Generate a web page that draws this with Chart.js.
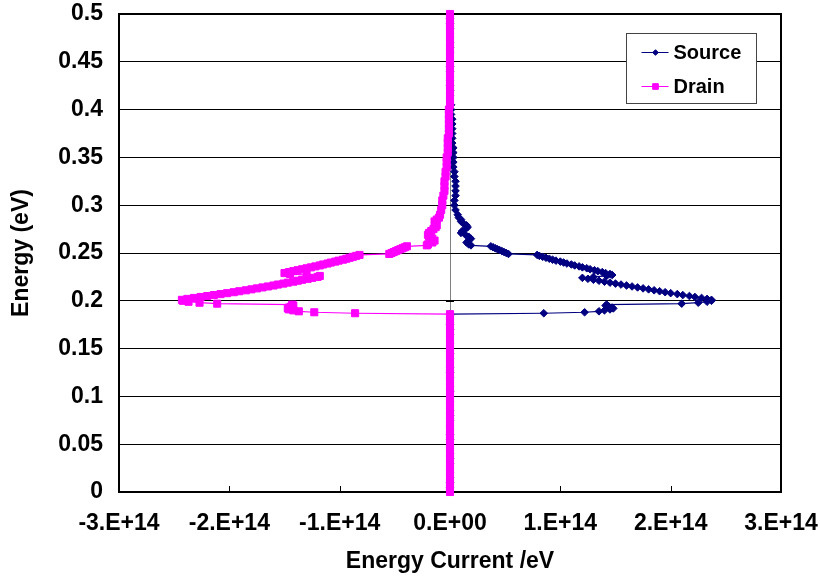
<!DOCTYPE html>
<html>
<head>
<meta charset="utf-8">
<title>Energy current</title>
<script src="https://cdn.jsdelivr.net/npm/chart.js@4.4.1/dist/chart.umd.min.js"></script>
<style>
  html, body { margin: 0; padding: 0; background: #fff; }
</style>
</head>
<body>
<canvas id="energy-current" width="820" height="576"></canvas>
<script>
const UNIT = 1e14; // currents below are in units of 1E+14

// Energy grid (eV), shared by both contacts
const ENERGY = [
  0, 0.005, 0.01, 0.015, 0.02, 0.025, 0.03, 0.035, 0.04, 0.045,
  0.05, 0.055, 0.06, 0.065, 0.07, 0.075, 0.08, 0.085, 0.09, 0.095,
  0.1, 0.105, 0.11, 0.115, 0.12, 0.125, 0.13, 0.135, 0.14, 0.145,
  0.15, 0.155, 0.16, 0.165, 0.17, 0.175, 0.18, 0.185,
  0.186, 0.187, 0.188, 0.189, 0.19, 0.191, 0.192, 0.193, 0.194, 0.195, 0.196, 0.197, 0.198, 0.199,
  0.2, 0.201, 0.202, 0.203, 0.204, 0.205, 0.206, 0.207, 0.208, 0.209,
  0.21, 0.211, 0.212, 0.213, 0.214, 0.215, 0.216, 0.217, 0.218, 0.219,
  0.22, 0.221, 0.222, 0.223, 0.224, 0.225, 0.226, 0.227, 0.228, 0.229,
  0.23, 0.231, 0.232, 0.233, 0.234, 0.235, 0.236, 0.237, 0.238, 0.239,
  0.24, 0.241, 0.242, 0.243, 0.244, 0.245, 0.246, 0.247, 0.248, 0.249,
  0.25, 0.251, 0.252, 0.253, 0.254, 0.255, 0.256, 0.257, 0.258,
  0.259, 0.261, 0.263, 0.265, 0.267, 0.269, 0.271, 0.273, 0.275, 0.277, 0.279, 0.281, 0.283, 0.285, 0.287,
  0.29, 0.295, 0.3, 0.305, 0.31, 0.315, 0.32, 0.325, 0.33, 0.335,
  0.34, 0.345, 0.35, 0.355, 0.36, 0.365, 0.37, 0.375, 0.38, 0.385,
  0.39, 0.395, 0.4, 0.405, 0.41, 0.415, 0.42, 0.425, 0.43, 0.435,
  0.44, 0.445, 0.45, 0.455, 0.46, 0.465, 0.47, 0.475, 0.48, 0.485,
  0.49, 0.495, 0.5
];

// Source contact current (x 1E+14)
const SOURCE_CURRENT = [
  0, 0, 0, 0, 0, 0, 0, 0, 0, 0,
  0, 0, 0, 0, 0, 0, 0, 0, 0, 0,
  0, 0, 0, 0, 0, 0, 0, 0, 0, 0,
  0, 0, 0, 0, 0, 0, 0, 0,
  0, 0.85, 1.22, 1.35, 1.40, 1.45, 1.48, 1.47, 1.44, 1.41, 1.42, 2.10, 2.25, 2.33,
  2.37, 2.37, 2.33, 2.28, 2.22, 2.17, 2.11, 2.06, 2.00, 1.95,
  1.90, 1.85, 1.80, 1.75, 1.70, 1.65, 1.60, 1.55, 1.50, 1.45,
  1.40, 1.35, 1.30, 1.25, 1.20, 1.30, 1.42, 1.47, 1.45, 1.41,
  1.38, 1.34, 1.31, 1.27, 1.24, 1.20, 1.17, 1.13, 1.10, 1.06,
  1.03, 1.00, 0.96, 0.93, 0.90, 0.87, 0.84, 0.81, 0.79, 0.53,
  0.51, 0.49, 0.47, 0.45, 0.43, 0.41, 0.39, 0.37, 0.19,
  0.17, 0.15, 0.17, 0.19, 0.17, 0.14, 0.10, 0.11, 0.14, 0.16, 0.15, 0.12, 0.10, 0.10, 0.08,
  0.07, 0.05, 0.04, 0.04, 0.05, 0.05, 0.05, 0.05, 0.04, 0.04,
  0.03, 0.03, 0.03, 0.03, 0.03, 0.02, 0.02, 0.02, 0.02, 0.02,
  0.02, 0.01, 0.01, 0.01, 0, 0, 0, 0, 0, 0,
  0, 0, 0, 0, 0, 0, 0, 0, 0, 0,
  0, 0, 0
];

// Drain contact current (x 1E+14)
const DRAIN_CURRENT = [
  0, 0, 0, 0, 0, 0, 0, 0, 0, 0,
  0, 0, 0, 0, 0, 0, 0, 0, 0, 0,
  0, 0, 0, 0, 0, 0, 0, 0, 0, 0,
  0, 0, 0, 0, 0, 0, 0, 0,
  0, -0.86, -1.23, -1.37, -1.42, -1.46, -1.47, -1.46, -1.44, -1.42, -1.43, -2.11, -2.27, -2.37,
  -2.42, -2.43, -2.38, -2.32, -2.26, -2.20, -2.14, -2.08, -2.02, -1.96,
  -1.91, -1.85, -1.80, -1.75, -1.70, -1.65, -1.60, -1.56, -1.51, -1.47,
  -1.42, -1.38, -1.34, -1.29, -1.25, -1.20, -1.18, -1.30, -1.45, -1.50,
  -1.46, -1.42, -1.38, -1.34, -1.30, -1.26, -1.22, -1.18, -1.15, -1.11,
  -1.08, -1.04, -1.01, -0.97, -0.94, -0.91, -0.88, -0.85, -0.82, -0.55,
  -0.53, -0.51, -0.49, -0.47, -0.45, -0.43, -0.41, -0.39, -0.21,
  -0.20, -0.16, -0.14, -0.16, -0.19, -0.20, -0.19, -0.17, -0.15, -0.13, -0.12, -0.13, -0.14, -0.12, -0.10,
  -0.09, -0.08, -0.07, -0.07, -0.06, -0.05, -0.05, -0.05, -0.04, -0.04,
  -0.03, -0.03, -0.03, -0.02, -0.02, -0.02, -0.02, -0.01, -0.01, -0.01,
  -0.01, -0.01, -0.01, 0, 0, 0, 0, 0, 0, 0,
  0, 0, 0, 0, 0, 0, 0, 0, 0, 0,
  0, 0, 0
];

const X_TICKS = [-3, -2, -1, 0, 1, 2, 3];
const Y_TICKS = [0, 0.05, 0.1, 0.15, 0.2, 0.25, 0.3, 0.35, 0.4, 0.45, 0.5];

const NAVY = '#000080';
const MAGENTA = '#FF00FF';
const FAMILY = "'Liberation Sans', Arial, sans-serif";
const AXIS_FONT = { family: FAMILY, size: 23, weight: 'bold' };
const LEGEND_FONT = 'bold 20px ' + FAMILY;
const CLEAR = 'rgba(0,0,0,0)';

const SERIES = [
  { label: 'Source', values: SOURCE_CURRENT, color: NAVY, pointStyle: 'rectRot', radius: 3.8 },
  { label: 'Drain', values: DRAIN_CURRENT, color: MAGENTA, pointStyle: 'rect', radius: 5 }
];

function toPoints(values) {
  return values.map((c, i) => ({ x: c * UNIT, y: ENERGY[i] }));
}

function formatCurrent(v) {
  const n = Math.round(v / UNIT);
  return n === 0 ? '0.E+00' : n + '.E+14';
}

// frame, axis tick marks and the boxed legend
const chartDecor = {
  id: 'chartDecor',
  beforeDatasetsDraw(chart) {
    const { ctx, chartArea: a, scales: { x, y } } = chart;
    ctx.save();
    ctx.strokeStyle = '#000';
    ctx.lineWidth = 1;
    ctx.beginPath();
    X_TICKS.forEach(v => {
      const px = Math.round(x.getPixelForValue(v * UNIT)) + 0.5;
      ctx.moveTo(px, a.bottom);
      ctx.lineTo(px, a.bottom - 6);
    });
    const x0 = Math.round(x.getPixelForValue(0));
    Y_TICKS.forEach(v => {
      const py = Math.round(y.getPixelForValue(v)) + 0.5;
      ctx.moveTo(x0 - 4, py);
      ctx.lineTo(x0 + 4, py);
    });
    ctx.stroke();
    ctx.lineWidth = 2;
    ctx.strokeRect(a.left, a.top, a.width, a.height);
    ctx.restore();
  },
  afterDatasetsDraw(chart) {
    const { ctx, chartArea: a } = chart;
    const lx = Math.round(a.right - 155) + 0.5;
    const ly = Math.round(a.top + 19) + 0.5;
    ctx.save();
    ctx.fillStyle = '#fff';
    ctx.fillRect(lx, ly, 130, 70);
    ctx.strokeStyle = '#444';
    ctx.lineWidth = 1;
    ctx.strokeRect(lx, ly, 130, 70);
    SERIES.forEach((s, i) => {
      const cy = ly + 19 + i * 34;
      ctx.strokeStyle = s.color;
      ctx.lineWidth = 1;
      ctx.beginPath();
      ctx.moveTo(lx + 15, cy);
      ctx.lineTo(lx + 42, cy);
      ctx.stroke();
      ctx.fillStyle = s.color;
      Chart.helpers.drawPoint(ctx, { pointStyle: s.pointStyle, radius: s.radius - 1, rotation: 0, borderWidth: 1 }, lx + 29, cy);
      ctx.fillStyle = '#000';
      ctx.font = LEGEND_FONT;
      ctx.textAlign = 'left';
      ctx.textBaseline = 'middle';
      ctx.fillText(s.label, lx + 47, cy + 1);
    });
    ctx.restore();
  }
};

const config = {
  type: 'scatter',
  data: {
    datasets: SERIES.map((s, i) => ({
      label: s.label,
      data: toPoints(s.values),
      showLine: true,
      borderColor: s.color,
      backgroundColor: s.color,
      borderWidth: 1.2,
      pointStyle: s.pointStyle,
      pointRadius: s.radius,
      pointBorderWidth: 1,
      pointBorderColor: s.color,
      pointBackgroundColor: s.color,
      clip: false,
      order: 2 - i // drain drawn over source
    }))
  },
  options: {
    responsive: false,
    animation: false,
    events: [],
    layout: { padding: { top: 14, right: 39, bottom: 0, left: 0 } },
    plugins: {
      legend: { display: false },
      tooltip: { enabled: false }
    },
    scales: {
      x: {
        type: 'linear',
        min: -3 * UNIT,
        max: 3 * UNIT,
        afterBuildTicks: s => { s.ticks = X_TICKS.map(v => ({ value: v * UNIT })); },
        afterFit: s => { s.height = 84; },
        border: { display: false },
        grid: {
          drawTicks: true,
          tickLength: 18,
          tickColor: CLEAR,
          lineWidth: 1,
          color: ctx => (ctx.tick && ctx.tick.value === 0 ? '#808080' : CLEAR)
        },
        ticks: {
          font: AXIS_FONT,
          color: '#000',
          padding: 0,
          maxRotation: 0,
          autoSkip: false,
          callback: v => formatCurrent(v)
        },
        title: {
          display: true,
          text: 'Energy Current /eV',
          font: AXIS_FONT,
          color: '#000',
          padding: { top: 0, bottom: 1 }
        }
      },
      y: {
        min: 0,
        max: 0.5,
        afterBuildTicks: s => { s.ticks = Y_TICKS.map(v => ({ value: v })); },
        afterFit: s => { s.width = 119; },
        border: { display: false },
        grid: { drawTicks: true, tickLength: 16, tickColor: CLEAR, color: '#000', lineWidth: 1 },
        ticks: {
          font: AXIS_FONT,
          color: '#000',
          padding: 0,
          callback: v => String(v)
        },
        title: {
          display: true,
          text: 'Energy (eV)',
          font: AXIS_FONT,
          color: '#000',
          padding: { top: 8, bottom: 0 }
        }
      }
    }
  },
  plugins: [chartDecor]
};

new Chart(document.getElementById('energy-current').getContext('2d'), config);
</script>
</body>
</html>
